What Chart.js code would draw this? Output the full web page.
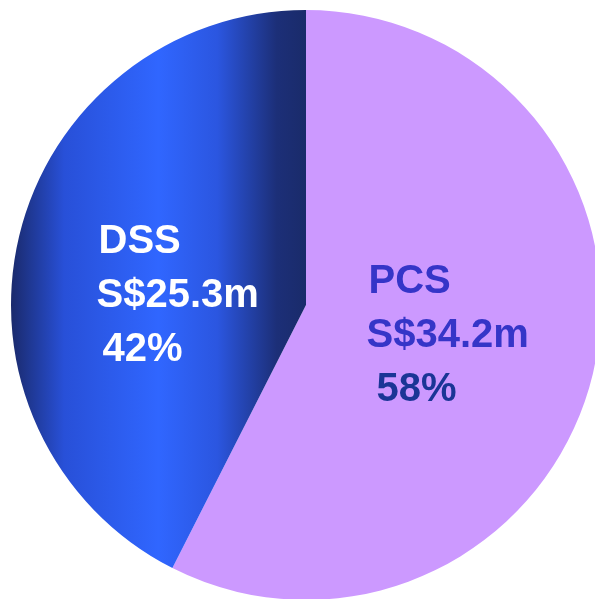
<!DOCTYPE html>
<html lang="en">
<head>
  <meta charset="UTF-8" />
  <title>PCS vs DSS</title>
  <script src="https://cdn.jsdelivr.net/npm/chart.js"></script>
  <style>
    html, body { margin: 0; padding: 0; background: #fff; overflow: hidden; }
    #wrap { position: relative; width: 612px; height: 610px; }
  </style>
</head>
<body>
<div id="wrap">
  <canvas id="pieChart" width="612" height="610"></canvas>
</div>

<script>
// data
const segments = ['PCS', 'DSS'];
const values = [34.2, 25.3];          // S$ millions
const amounts = ['S$34.2m', 'S$25.3m'];
const shares = [58, 42];

const fillPCS = '#cc99ff';
const labelColours = [
  ['#3535c8', '#3535c8', '#1a3596'],
  ['#ffffff', '#ffffff', '#ffffff']
];

// DSS gets a horizontal navy -> bright blue -> navy gradient
function sliceFill(ctx) {
  if (ctx.dataIndex === 0) return fillPCS;
  const ca = ctx.chart.chartArea;
  if (!ca) return '#2f66ff';
  const cx = (ca.left + ca.right) / 2;
  const r = Math.min(ca.right - ca.left, ca.bottom - ca.top) / 2;
  const g = ctx.chart.ctx.createLinearGradient(cx - r, 0, cx, 0);
  g.addColorStop(0, '#1a2a6c');
  g.addColorStop(0.18, '#2850d8');
  g.addColorStop(0.5, '#3066ff');
  g.addColorStop(0.7, '#2b56e0');
  g.addColorStop(0.9, '#1c2f78');
  g.addColorStop(1, '#1a2b6a');
  return g;
}

// label anchor (fraction of radius from centre) and per-line x nudge
const labelAnchors = [
  { fx: 0.205, fy: -0.04, dx: [2, 0, 10] },
  { fx: -0.71, fy: -0.176, dx: [2, 0, 6] }
];

const sliceLabels = {
  id: 'sliceLabels',
  afterDatasetsDraw(chart) {
    const c = chart.ctx;
    const arcs = chart.getDatasetMeta(0).data;
    c.save();
    c.font = 'bold 40px "Liberation Sans", Arial, sans-serif';
    c.textBaseline = 'alphabetic';
    c.textAlign = 'left';
    arcs.forEach((arc, i) => {
      const r = arc.outerRadius;
      const x0 = arc.x + labelAnchors[i].fx * r;
      const y0 = arc.y + labelAnchors[i].fy * r;
      const lines = [segments[i], amounts[i], shares[i] + '%'];
      lines.forEach((t, j) => {
        c.fillStyle = labelColours[i][j];
        c.fillText(t, x0 + labelAnchors[i].dx[j], y0 + j * 54);
      });
    });
    c.restore();
  }
};

new Chart(document.getElementById('pieChart'), {
  type: 'pie',
  data: {
    labels: segments,
    datasets: [{
      data: values,
      backgroundColor: sliceFill,
      borderWidth: 0
    }]
  },
  options: {
    responsive: false,
    animation: false,
    layout: { padding: 10 },
    plugins: {
      legend: { display: false },
      tooltip: { enabled: false }
    }
  },
  plugins: [sliceLabels]
});
</script>
</body>
</html>
